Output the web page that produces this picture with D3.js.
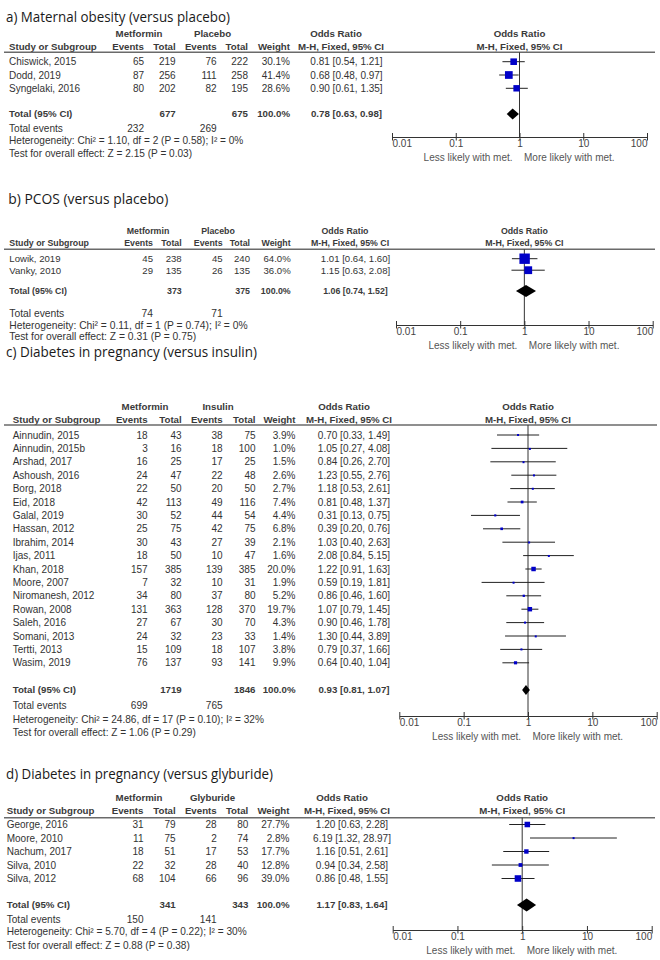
<!DOCTYPE html>
<html><head><meta charset="utf-8">
<script src="https://cdn.jsdelivr.net/npm/d3@7"></script>
<style>body{margin:0;background:#fff} svg{display:block}</style>
</head><body>
<svg id="chart" width="660" height="960"></svg>
<script>
// ---------------- DATA ----------------
const ticks = [0.01, 0.1, 1, 10, 100];
const tickLabels = ["0.01", "0.1", "1", "10", "100"];
const favourLabels = ["Less likely with met.", "More likely with met."];

// Panel a
const titleA = "a) Maternal obesity (versus placebo)";
const controlA = "Placebo";
const studiesA = ["Chiswick, 2015", "Dodd, 2019", "Syngelaki, 2016"];
const metEventsA = [65, 87, 80];
const metTotalA = [219, 256, 202];
const ctlEventsA = [76, 111, 82];
const ctlTotalA = [222, 258, 195];
const weightA = [30.1, 41.4, 28.6];
const orA = [0.81, 0.68, 0.90];
const lowA = [0.54, 0.48, 0.61];
const highA = [1.21, 0.97, 1.35];
const totalA = {met: 677, ctl: 675, or: 0.78, low: 0.63, high: 0.98, evMet: 232, evCtl: 269};
const hetA = "Heterogeneity: Chi\u00B2 = 1.10, df = 2 (P = 0.58); I\u00B2 = 0%";
const testA = "Test for overall effect: Z = 2.15 (P = 0.03)";

// Panel b
const titleB = "b) PCOS (versus placebo)";
const controlB = "Placebo";
const studiesB = ["Lowik, 2019", "Vanky, 2010"];
const metEventsB = [45, 29];
const metTotalB = [238, 135];
const ctlEventsB = [45, 26];
const ctlTotalB = [240, 135];
const weightB = [64.0, 36.0];
const orB = [1.01, 1.15];
const lowB = [0.64, 0.63];
const highB = [1.60, 2.08];
const totalB = {met: 373, ctl: 375, or: 1.06, low: 0.74, high: 1.52, evMet: 74, evCtl: 71};
const hetB = "Heterogeneity: Chi\u00B2 = 0.11, df = 1 (P = 0.74); I\u00B2 = 0%";
const testB = "Test for overall effect: Z = 0.31 (P = 0.75)";

// Panel c
const titleC = "c) Diabetes in pregnancy (versus insulin)";
const controlC = "Insulin";
const studiesC = ["Ainnudin, 2015", "Ainnudin, 2015b", "Arshad, 2017", "Ashoush, 2016", "Borg, 2018", "Eid, 2018",
  "Galal, 2019", "Hassan, 2012", "Ibrahim, 2014", "Ijas, 2011", "Khan, 2018", "Moore, 2007", "Niromanesh, 2012",
  "Rowan, 2008", "Saleh, 2016", "Somani, 2013", "Tertti, 2013", "Wasim, 2019"];
const metEventsC = [18, 3, 16, 24, 22, 42, 30, 25, 30, 18, 157, 7, 34, 131, 27, 24, 15, 76];
const metTotalC = [43, 16, 25, 47, 50, 113, 52, 75, 43, 50, 385, 32, 80, 363, 67, 32, 109, 137];
const ctlEventsC = [38, 18, 17, 22, 20, 49, 44, 42, 27, 10, 139, 10, 37, 128, 30, 23, 18, 93];
const ctlTotalC = [75, 100, 25, 48, 50, 116, 54, 75, 39, 47, 385, 31, 80, 370, 70, 33, 107, 141];
const weightC = [3.9, 1.0, 1.5, 2.6, 2.7, 7.4, 4.4, 6.8, 2.1, 1.6, 20.0, 1.9, 5.2, 19.7, 4.3, 1.4, 3.8, 9.9];
const orC = [0.70, 1.05, 0.84, 1.23, 1.18, 0.81, 0.31, 0.39, 1.03, 2.08, 1.22, 0.59, 0.86, 1.07, 0.90, 1.30, 0.79, 0.64];
const lowC = [0.33, 0.27, 0.26, 0.55, 0.53, 0.48, 0.13, 0.20, 0.40, 0.84, 0.91, 0.19, 0.46, 0.79, 0.46, 0.44, 0.37, 0.40];
const highC = [1.49, 4.08, 2.70, 2.76, 2.61, 1.37, 0.75, 0.76, 2.63, 5.15, 1.63, 1.81, 1.60, 1.45, 1.78, 3.89, 1.66, 1.04];
const totalC = {met: 1719, ctl: 1846, or: 0.93, low: 0.81, high: 1.07, evMet: 699, evCtl: 765};
const hetC = "Heterogeneity: Chi\u00B2 = 24.86, df = 17 (P = 0.10); I\u00B2 = 32%";
const testC = "Test for overall effect: Z = 1.06 (P = 0.29)";

// Panel d
const titleD = "d) Diabetes in pregnancy (versus glyburide)";
const controlD = "Glyburide";
const studiesD = ["George, 2016", "Moore, 2010", "Nachum, 2017", "Silva, 2010", "Silva, 2012"];
const metEventsD = [31, 11, 18, 22, 68];
const metTotalD = [79, 75, 51, 32, 104];
const ctlEventsD = [28, 2, 17, 28, 66];
const ctlTotalD = [80, 74, 53, 40, 96];
const weightD = [27.7, 2.8, 17.7, 12.8, 39.0];
const orD = [1.20, 6.19, 1.16, 0.94, 0.86];
const lowD = [0.63, 1.32, 0.51, 0.34, 0.48];
const highD = [2.28, 28.97, 2.61, 2.58, 1.55];
const totalD = {met: 341, ctl: 343, or: 1.17, low: 0.83, high: 1.64, evMet: 150, evCtl: 141};
const hetD = "Heterogeneity: Chi\u00B2 = 5.70, df = 4 (P = 0.22); I\u00B2 = 30%";
const testD = "Test for overall effect: Z = 0.88 (P = 0.38)";

// ---------------- LAYOUT (per panel) ----------------
const layouts = [
  {titleX: 6, titleY: 16.7, titleW: 224, h1: 33.3, h2: 46.7, lineY: 52.3, lineX0: 4, lineX1: 655,
   row0: 61.7, step: 13.3, totalY: 114, evY: 128.3, hetY: 140.8, testY: 153.6,
   sx: 9, mEv: 144, mTot: 175.7, cEv: 216.7, cTot: 248, wt: 290, orC: 346.5, orH1: 336, orH2: 341,
   metC: 139, ctlC: 212.5, fs: 10, hfs: 9.7, ffs: 10.1, x0: 392, x1: 647, axisY: 137, sq: 1.2, dh: 11},
  {titleX: 8.3, titleY: 198.3, titleW: 160, h1: 230.7, h2: 242.7, lineY: 249.3, lineX0: 4, lineX1: 655,
   row0: 258.7, step: 11.5, totalY: 291, evY: 313.3, hetY: 325, testY: 336.7,
   sx: 9.3, mEv: 153, mTot: 181.7, cEv: 222.7, cTot: 250, wt: 290.7, orC: 355.5, orH1: 345, orH2: 350,
   metC: 148, ctlC: 218, fs: 9.6, hfs: 8.8, ffs: 10.3, x0: 396, x1: 652.7, axisY: 325, sq: 1.3, dh: 12},
  {titleX: 6, titleY: 351.7, titleW: 251, h1: 406.7, h2: 419.3, lineY: 425, lineX0: 4, lineX1: 657,
   row0: 435, step: 13.4, totalY: 690, evY: 705, hetY: 719.3, testY: 732.3,
   sx: 12.7, mEv: 147.7, mTot: 181.7, cEv: 222.7, cTot: 255.5, wt: 295.5, orC: 354, orH1: 344, orH2: 349,
   metC: 145, ctlC: 218, fs: 10, hfs: 9.7, ffs: 10.1, x0: 399.3, x1: 656.7, axisY: 716, sq: 1.0, dh: 10},
  {titleX: 6, titleY: 773.3, titleW: 267, h1: 797.3, h2: 810.7, lineY: 817.7, lineX0: 4, lineX1: 655,
   row0: 824.5, step: 13.5, totalY: 905, evY: 919, hetY: 931.7, testY: 945,
   sx: 6.7, mEv: 143.5, mTot: 175.7, cEv: 216.7, cTot: 248.3, wt: 289.5, orC: 352, orH1: 342, orH2: 347,
   metC: 139, ctlC: 212.5, fs: 10, hfs: 9.7, ffs: 10.1, x0: 392.7, x1: 651.7, axisY: 930, sq: 1.05, dh: 13}
];

const panels = [
  {title: titleA, control: controlA, studies: studiesA, me: metEventsA, mt: metTotalA, ce: ctlEventsA, ct: ctlTotalA, w: weightA, or: orA, lo: lowA, hi: highA, tot: totalA, het: hetA, test: testA},
  {title: titleB, control: controlB, studies: studiesB, me: metEventsB, mt: metTotalB, ce: ctlEventsB, ct: ctlTotalB, w: weightB, or: orB, lo: lowB, hi: highB, tot: totalB, het: hetB, test: testB},
  {title: titleC, control: controlC, studies: studiesC, me: metEventsC, mt: metTotalC, ce: ctlEventsC, ct: ctlTotalC, w: weightC, or: orC, lo: lowC, hi: highC, tot: totalC, het: hetC, test: testC},
  {title: titleD, control: controlD, studies: studiesD, me: metEventsD, mt: metTotalD, ce: ctlEventsD, ct: ctlTotalD, w: weightD, or: orD, lo: lowD, hi: highD, tot: totalD, het: hetD, test: testD}
];

// ---------------- DRAW ----------------
const svg = d3.select("#chart");
const TXT = "#333", HDR = "#3a3a3a", BLUE = "#0000c8";
const f2 = d3.format(".2f"), f1 = d3.format(".1f");

function drawPanel(d, L) {
  const g = svg.append("g").attr("font-family", "'Liberation Sans', Arial, sans-serif");
  const base = (y, fs) => y + 0.36 * fs;
  const txt = (x, y, s, opt = {}) => {
    const fs = opt.fs || L.fs;
    const t = g.append("text").attr("x", x).attr("y", base(y, fs)).attr("font-size", fs)
      .attr("fill", opt.fill || TXT).attr("text-anchor", opt.anchor || "start").text(s);
    if (opt.bold) t.attr("font-weight", "bold");
    return t;
  };
  const x = d3.scaleLog().domain([ticks[0], ticks[ticks.length - 1]]).range([L.x0, L.x1]);
  const n = d.studies.length;
  const rowY = d3.range(n).map(i => L.row0 + i * L.step);

  // title
  g.append("text").attr("x", L.titleX).attr("y", L.titleY + 5.2)
    .attr("font-family", "'Open Sans', 'Noto Sans', sans-serif").attr("font-size", 15)
    .attr("fill", "#1a1a1a").attr("textLength", L.titleW).attr("lengthAdjust", "spacingAndGlyphs").text(d.title);

  // header row 1
  const hb = {bold: true, fs: L.hfs, fill: HDR};
  txt(L.metC, L.h1, "Metformin", {...hb, anchor: "middle"});
  txt(L.ctlC, L.h1, d.control, {...hb, anchor: "middle"});
  txt(L.orH1, L.h1, "Odds Ratio", {...hb, anchor: "middle"});
  txt(x(1), L.h1, "Odds Ratio", {...hb, anchor: "middle"});
  // header row 2
  txt(L.sx, L.h2, "Study or Subgroup", hb);
  txt(L.mEv, L.h2, "Events", {...hb, anchor: "end"});
  txt(L.mTot, L.h2, "Total", {...hb, anchor: "end"});
  txt(L.cEv, L.h2, "Events", {...hb, anchor: "end"});
  txt(L.cTot, L.h2, "Total", {...hb, anchor: "end"});
  txt(L.wt, L.h2, "Weight", {...hb, anchor: "end"});
  txt(L.orH2, L.h2, "M-H, Fixed, 95% CI", {...hb, anchor: "middle"});
  txt(x(1), L.h2, "M-H, Fixed, 95% CI", {...hb, anchor: "middle"});

  g.append("line").attr("x1", L.lineX0).attr("x2", L.lineX1).attr("y1", L.lineY).attr("y2", L.lineY)
    .attr("stroke", "#6a6a6a").attr("stroke-width", 1.4);

  // study rows
  d.studies.forEach((s, i) => {
    const y = rowY[i];
    txt(L.sx, y, s);
    txt(L.mEv, y, d.me[i], {anchor: "end"});
    txt(L.mTot, y, d.mt[i], {anchor: "end"});
    txt(L.cEv, y, d.ce[i], {anchor: "end"});
    txt(L.cTot, y, d.ct[i], {anchor: "end"});
    txt(L.wt, y, f1(d.w[i]) + "%", {anchor: "end"});
    txt(L.orC, y, `${f2(d.or[i])} [${f2(d.lo[i])}, ${f2(d.hi[i])}]`, {anchor: "middle"});
  });

  // total row
  const T = d.tot;
  txt(L.sx, L.totalY, "Total (95% CI)", hb);
  txt(L.mTot, L.totalY, T.met, {...hb, anchor: "end"});
  txt(L.cTot, L.totalY, T.ctl, {...hb, anchor: "end"});
  txt(L.wt, L.totalY, "100.0%", {...hb, anchor: "end"});
  txt(L.orC, L.totalY, `${f2(T.or)} [${f2(T.low)}, ${f2(T.high)}]`, {...hb, anchor: "middle"});

  // footer
  txt(L.sx, L.evY, "Total events", {fs: L.ffs});
  txt(L.mEv, L.evY, T.evMet, {anchor: "end", fs: L.ffs});
  txt(L.cEv, L.evY, T.evCtl, {anchor: "end", fs: L.ffs});
  txt(L.sx, L.hetY, d.het, {fs: L.ffs});
  txt(L.sx, L.testY, d.test, {fs: L.ffs});

  // plot: null line
  g.append("line").attr("x1", x(1)).attr("x2", x(1)).attr("y1", L.lineY).attr("y2", L.axisY)
    .attr("stroke", "#333").attr("stroke-width", 1);

  // whiskers
  g.selectAll(null).data(d3.range(n)).join("line")
    .attr("x1", i => x(d.lo[i])).attr("x2", i => x(d.hi[i]))
    .attr("y1", i => rowY[i]).attr("y2", i => rowY[i])
    .attr("stroke", "#222").attr("stroke-width", 1);
  // squares
  g.selectAll(null).data(d3.range(n)).join("rect")
    .attr("x", i => x(d.or[i]) - L.sq * Math.sqrt(d.w[i]) / 2)
    .attr("y", i => rowY[i] - L.sq * Math.sqrt(d.w[i]) / 2)
    .attr("width", i => Math.max(2, L.sq * Math.sqrt(d.w[i])))
    .attr("height", i => Math.max(2, L.sq * Math.sqrt(d.w[i])))
    .attr("fill", BLUE);
  // diamond
  const ty = L.totalY, h = L.dh / 2;
  g.append("path")
    .attr("d", `M${x(T.low)},${ty} L${x(T.or)},${ty - h} L${x(T.high)},${ty} L${x(T.or)},${ty + h} Z`)
    .attr("fill", "#000");

  // axis
  const ax = g.append("g").attr("transform", `translate(0,${L.axisY})`)
    .call(d3.axisBottom(x).tickValues(ticks).tickFormat((v, i) => tickLabels[i]).tickSizeOuter(0).tickSizeInner(0).tickPadding(3));
  ax.select(".domain").attr("stroke", "#333");
  ax.selectAll(".tick line").attr("y1", -4).attr("y2", 3.5).attr("stroke", "#333");
  ax.selectAll(".tick text").attr("font-family", "'Liberation Sans', Arial, sans-serif").attr("font-size", 10)
    .attr("fill", "#444")
    .attr("text-anchor", (v, i) => i === 0 ? "start" : (i === ticks.length - 1 ? "end" : "middle"));
  ax.attr("font-family", null).attr("font-size", null);

  txt(x(1) - 7, L.axisY + 20, favourLabels[0], {anchor: "end", fill: "#555", fs: 10});
  txt(x(1) + 4.5, L.axisY + 20, favourLabels[1], {anchor: "start", fill: "#555", fs: 10});
}

panels.forEach((p, i) => drawPanel(p, layouts[i]));
</script>
</body></html>
